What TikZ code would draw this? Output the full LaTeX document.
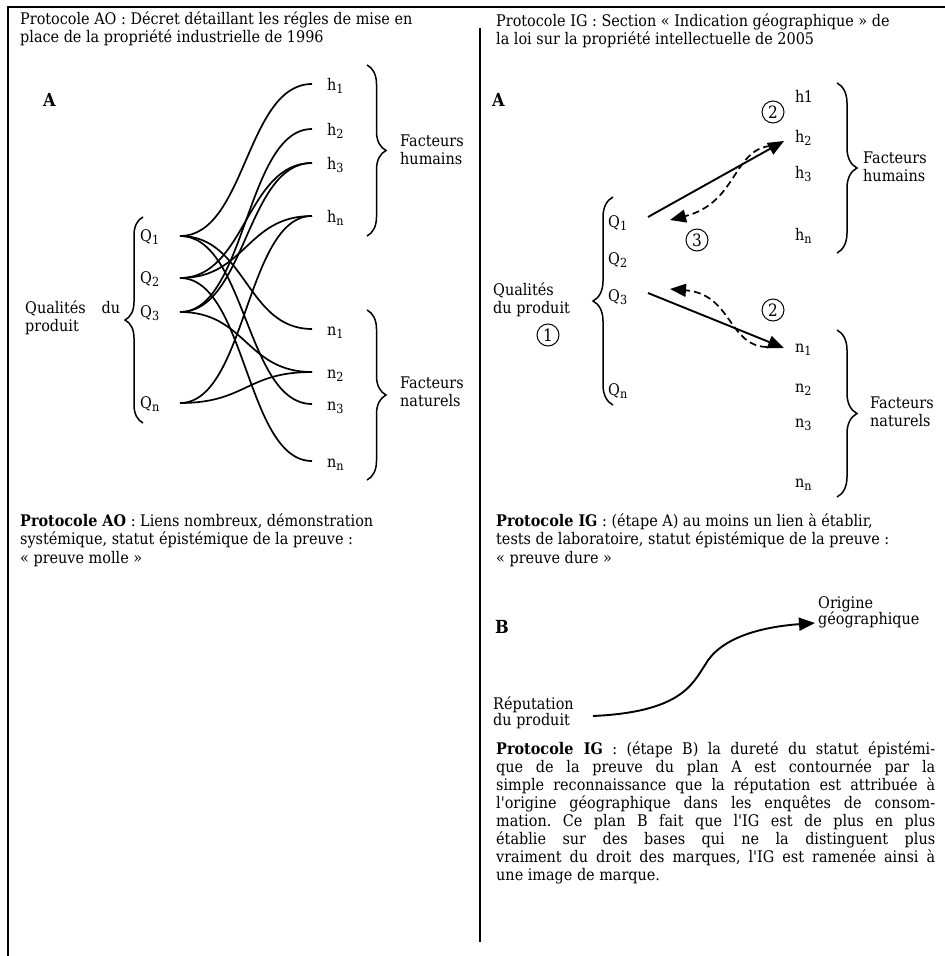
\documentclass[tikz,border=0pt]{standalone}
\usepackage{fontspec}
\setmainfont{DejaVu Serif}[FakeStretch=0.9,Ligatures=TeXOff]
\usetikzlibrary{arrows.meta,decorations.pathreplacing}
\newcommand{\fsz}{\fontsize{16}{18.5}\selectfont}
\newcommand{\sbs}[1]{\raisebox{-0.45ex}{\fontsize{12.5}{12.5}\selectfont #1}}
\newcommand{\txtlines}[2]{\vtop{\baselineskip=#1\lineskiplimit=-20pt\lineskip=0pt #2}}
\frenchspacing
\begin{document}
\begin{tikzpicture}[x=1pt,y=-1pt,
  every node/.style={inner sep=0pt},
  txt/.style={anchor=base west, font=\fsz},
  bld/.style={anchor=base west, font=\fontsize{18}{18}\selectfont\bfseries},
  link/.style={line width=1.7pt},
  brc/.style={decorate, decoration={brace, amplitude=#1}, line width=1.5pt},
  brc/.default=19,
  arr/.style={line width=1.9pt, -{Triangle[length=16pt,width=13pt]}},
  darr/.style={line width=1.7pt, dash pattern=on 7pt off 4pt, -{Triangle[length=16pt,width=13pt]}},
  circnum/.style={circle, draw, line width=1pt, minimum size=22pt, font=\fontsize{17}{17}\selectfont},
  frame/.style={line width=2pt}
]
\useasboundingbox (0,0) rectangle (945,956);
\fill[white] (0,0) rectangle (945,956);
% frame
\draw[frame] (8,956) -- (8,7) -- (945,7);
\draw[frame] (480,28) -- (480,942);

% headers
\node[txt] (hdl) at (20,24) {\txtlines{18.5pt}{\hbox{Protocole AO : Décret détaillant les régles de mise en}\hbox{place de la propriété industrielle de 1996}}};
\node[txt] (hdr) at (496,26) {\txtlines{18.5pt}{\hbox{Protocole IG : Section « Indication géographique » de}\hbox{la loi sur la propriété intellectuelle de 2005}}};

% ===== left diagram A =====
\node[bld] (la) at (43,106) {A};
\coordinate (q1) at (180,236);
\coordinate (q2) at (180,278);
\coordinate (q3) at (180,312);
\coordinate (qn) at (180,403);
\coordinate (h1e) at (312,84);
\coordinate (h2e) at (312,129);
\coordinate (h3e) at (312,163);
\coordinate (hne) at (312,216);
\coordinate (n1e) at (312,329);
\coordinate (n2e) at (312,372);
\coordinate (n3e) at (312,404);
\coordinate (nne) at (312,461);

\node[txt] (lq1) at (140,241) {Q\sbs{1}};
\node[txt] (lq2) at (140,283) {Q\sbs{2}};
\node[txt] (lq3) at (140,317) {Q\sbs{3}};
\node[txt] (lqn) at (140,408) {Q\sbs{n}};
\node[txt] (lh1) at (327,90) {h\sbs{1}};
\node[txt] (lh2) at (327,135) {h\sbs{2}};
\node[txt] (lh3) at (327,169) {h\sbs{3}};
\node[txt] (lhn) at (327,222) {h\sbs{n}};
\node[txt] (ln1) at (327,335) {n\sbs{1}};
\node[txt] (ln2) at (327,378) {n\sbs{2}};
\node[txt] (ln3) at (327,410) {n\sbs{3}};
\node[txt] (lnn) at (327,467) {n\sbs{n}};

\foreach \a/\b in {q1/h1e,q1/n1e,q1/n3e,q2/h3e,q2/hne,q2/nne,q3/h2e,q3/h3e,q3/n2e,qn/hne,qn/n2e}
  \draw[link] (\a) .. controls +(66,0) and +(-66,0) .. (\b);

\draw[brc=18] (143,423) -- (143,217);
\draw[brc] (367,65) -- (367,236);
\draw[brc] (367,310) -- (367,480);
\node[txt] (lqual) at (25,313) {\txtlines{18pt}{\hbox to 95pt{Qualités\hfill du}\hbox{produit}}};
\node[txt] (lfh) at (400,146) {\txtlines{18pt}{\hbox{Facteurs}\hbox{humains}}};
\node[txt] (lfn) at (400,388) {\txtlines{18pt}{\hbox{Facteurs}\hbox{naturels}}};

% left bottom text
\node[txt] (lbt) at (20,526) {\txtlines{18.5pt}{\hbox{\textbf{Protocole AO} : Liens nombreux, démonstration}\hbox{systémique, statut épistémique de la preuve :}\hbox{« preuve molle »}}};

% ===== right diagram A =====
\node[bld] (ra) at (492,106) {A};
\node[txt] (rq1) at (608,227) {Q\sbs{1}};
\node[txt] (rq2) at (608,264) {Q\sbs{2}};
\node[txt] (rq3) at (608,301) {Q\sbs{3}};
\node[txt] (rqn) at (608,395) {Q\sbs{n}};
\node[txt] (rh1) at (795,102) {h\kern-0.5pt 1};
\node[txt] (rh2) at (795,142) {h\sbs{2}};
\node[txt] (rh3) at (795,178) {h\sbs{3}};
\node[txt] (rhn) at (795,240) {h\sbs{n}};
\node[txt] (rn1) at (795,352) {n\sbs{1}};
\node[txt] (rn2) at (795,392) {n\sbs{2}};
\node[txt] (rn3) at (795,427) {n\sbs{3}};
\node[txt] (rnn) at (795,487) {n\sbs{n}};

\draw[brc=20] (613,405) -- (613,197);
\draw[brc=20] (837,83) -- (837,253);
\draw[brc=20] (837,330) -- (837,497);
\node[txt] (rqual) at (493,295) {\txtlines{18pt}{\hbox{Qualités}\hbox{du produit}}};
\node[txt] (rfh) at (863,163) {\txtlines{18pt}{\hbox{Facteurs}\hbox{humains}}};
\node[txt] (rfn) at (870,408) {\txtlines{18pt}{\hbox{Facteurs}\hbox{naturels}}};

\node[circnum] (c1) at (548,335) {1};
\node[circnum] (c2a) at (773,112) {2};
\node[circnum] (c3) at (697,240) {3};
\node[circnum] (c2b) at (773,310) {2};

\coordinate (s1a) at (648,217);
\coordinate (s1b) at (784,141);
\coordinate (s2a) at (648,293);
\coordinate (s2b) at (784,348);
\coordinate (d1a) at (770,146);
\coordinate (d1b) at (670,220);
\coordinate (d2a) at (767,347);
\coordinate (d2b) at (670,289);
\draw[arr] (s1a) -- (s1b);
\draw[arr] (s2a) -- (s2b);
\draw[darr] (d1a) .. controls (733,150) and (737,203) .. (d1b);
\draw[darr] (d2a) .. controls (728,346) and (732,294) .. (d2b);

% right bottom texts
\node[txt] (rbt) at (496,526) {\txtlines{18.5pt}{\hbox{\textbf{Protocole IG} : (étape A) au moins un lien à établir,}\hbox{tests de laboratoire, statut épistémique de la preuve :}\hbox{« preuve dure »}}};

% ===== B =====
\node[bld] (rb) at (495,633) {B};
\node[txt] (orig) at (818,608) {\txtlines{16pt}{\hbox{Origine}\hbox{géographique}}};
\node[txt] (rep) at (493,709) {\txtlines{16pt}{\hbox{Réputation}\hbox{du produit}}};
\coordinate (bs) at (593,716);
\coordinate (bm) at (705,665);
\coordinate (be) at (815,623);
\draw[arr] (bs) .. controls (680,712) and (692,685) .. (bm) .. controls (720,638) and (760,627) .. (be);

\node[txt] (para) at (496,754) {\txtlines{18pt}{%
\hbox to 439pt{\textbf{Protocole IG} : (étape B) la dureté du statut épistémi-}%
\hbox to 439pt{que de la preuve du plan A est contournée par la}%
\hbox to 439pt{simple reconnaissance que la réputation est attribuée à}%
\hbox to 439pt{l'origine géographique dans les enquêtes de consom-}%
\hbox to 439pt{mation. Ce plan B fait que l'IG est de plus en plus}%
\hbox to 439pt{établie sur des bases qui ne la distinguent plus}%
\hbox to 439pt{vraiment du droit des marques, l'IG est ramenée ainsi à}%
\hbox{une image de marque.}}};
\end{tikzpicture}
\end{document}
